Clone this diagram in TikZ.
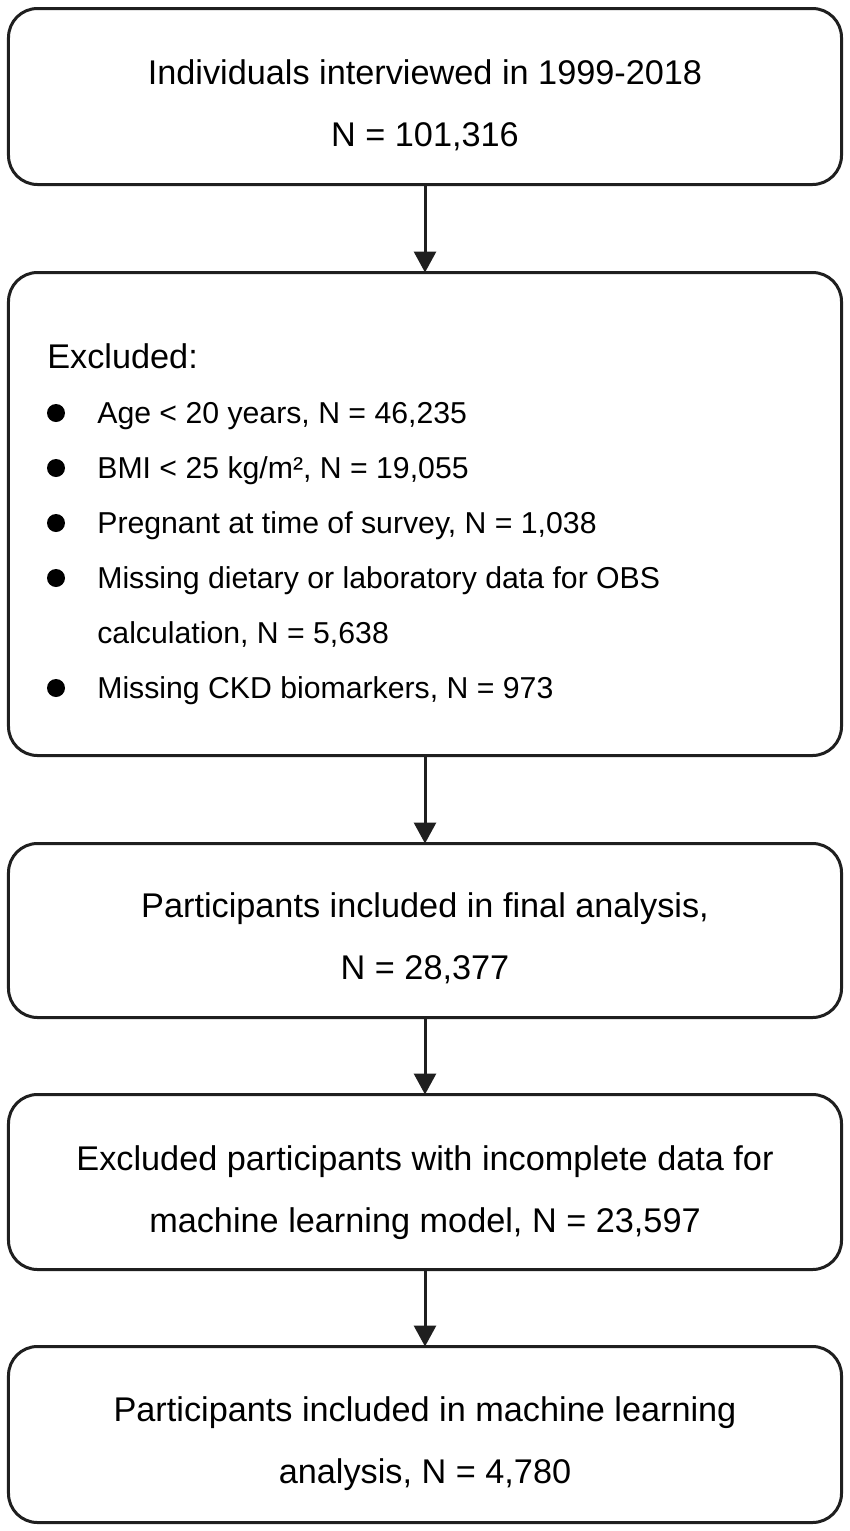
\documentclass[tikz,border=0pt]{standalone}
\usepackage{fontspec}
\setmainfont{Liberation Sans}
\usepackage{tikz}
\usetikzlibrary{arrows.meta,shapes.misc}
\usepackage{xcolor}

\begin{document}
\begin{tikzpicture}[
  bx/.style={rectangle,rounded corners=0.58cm,draw=black!88,line width=0.06cm,
    minimum width=16.66cm,outer sep=0pt,inner sep=0pt},
  tx/.style={font=\fontsize{19.5}{35.28}\selectfont,align=center,inner sep=0pt,anchor=base},
  it/.style={font=\fontsize{17.2}{31.3}\selectfont,align=left,inner sep=0pt,anchor=base west},
  bu/.style={circle,fill=black,minimum size=0.36cm,inner sep=0pt},
  ar/.style={-{Triangle[width=0.44cm,length=0.42cm]},black!88,line width=0.06cm},
  ]
  \useasboundingbox (0,0) rectangle (17,-30.62);

  % boxes
  \node at (8.5,-1.93) [bx,minimum height=3.52cm] (b1) {};
  \node at (8.5,-10.28) [bx,minimum height=9.66cm] (b2) {};
  \node at (8.5,-18.61) [bx,minimum height=3.48cm] (b3) {};
  \node at (8.5,-23.64) [bx,minimum height=3.5cm] (b4) {};
  \node at (8.5,-28.69) [bx,minimum height=3.52cm] (b5) {};

  \node at (8.5,-2.92) [tx] (t1) {Individuals interviewed in 1999-2018\\
    N = 101,316};
  \node at (8.5,-19.58) [tx] (t3) {Participants included in final analysis,\\
    N = 28,377};
  \node at (8.5,-24.64) [tx] (t4) {Excluded participants with incomplete data for\\
    machine learning model, N = 23,597};
  \node at (8.5,-29.66) [tx] (t5) {Participants included in machine learning\\
    analysis, N = 4,780};

  % exclusion list
  \node at (0.94,-7.36) [it,font=\fontsize{19.5}{35.28}\selectfont] (ex) {Excluded:};
  \node at (1.12,-8.26) [bu] (d1) {};
  \node at (1.12,-9.36) [bu] (d2) {};
  \node at (1.12,-10.46) [bu] (d3) {};
  \node at (1.12,-11.56) [bu] (d4) {};
  \node at (1.12,-13.76) [bu] (d5) {};
  \node at (1.94,-8.46) [it] (i1) {Age < 20 years, N = 46,235};
  \node at (1.94,-9.56) [it] (i2) {BMI < 25 kg/m², N = 19,055};
  \node at (1.94,-10.66) [it] (i3) {Pregnant at time of survey, N = 1,038};
  \node at (1.94,-12.86) [it] (i4) {Missing dietary or laboratory data for OBS\\
    calculation, N = 5,638};
  \node at (1.94,-13.96) [it] (i5) {Missing CKD biomarkers, N = 973};

  \draw  (b1.south) edge [ar] (b2.north);
  \draw  (b2.south) edge [ar] (b3.north);
  \draw  (b3.south) edge [ar] (b4.north);
  \draw  (b4.south) edge [ar] (b5.north);

\end{tikzpicture}
\end{document}
